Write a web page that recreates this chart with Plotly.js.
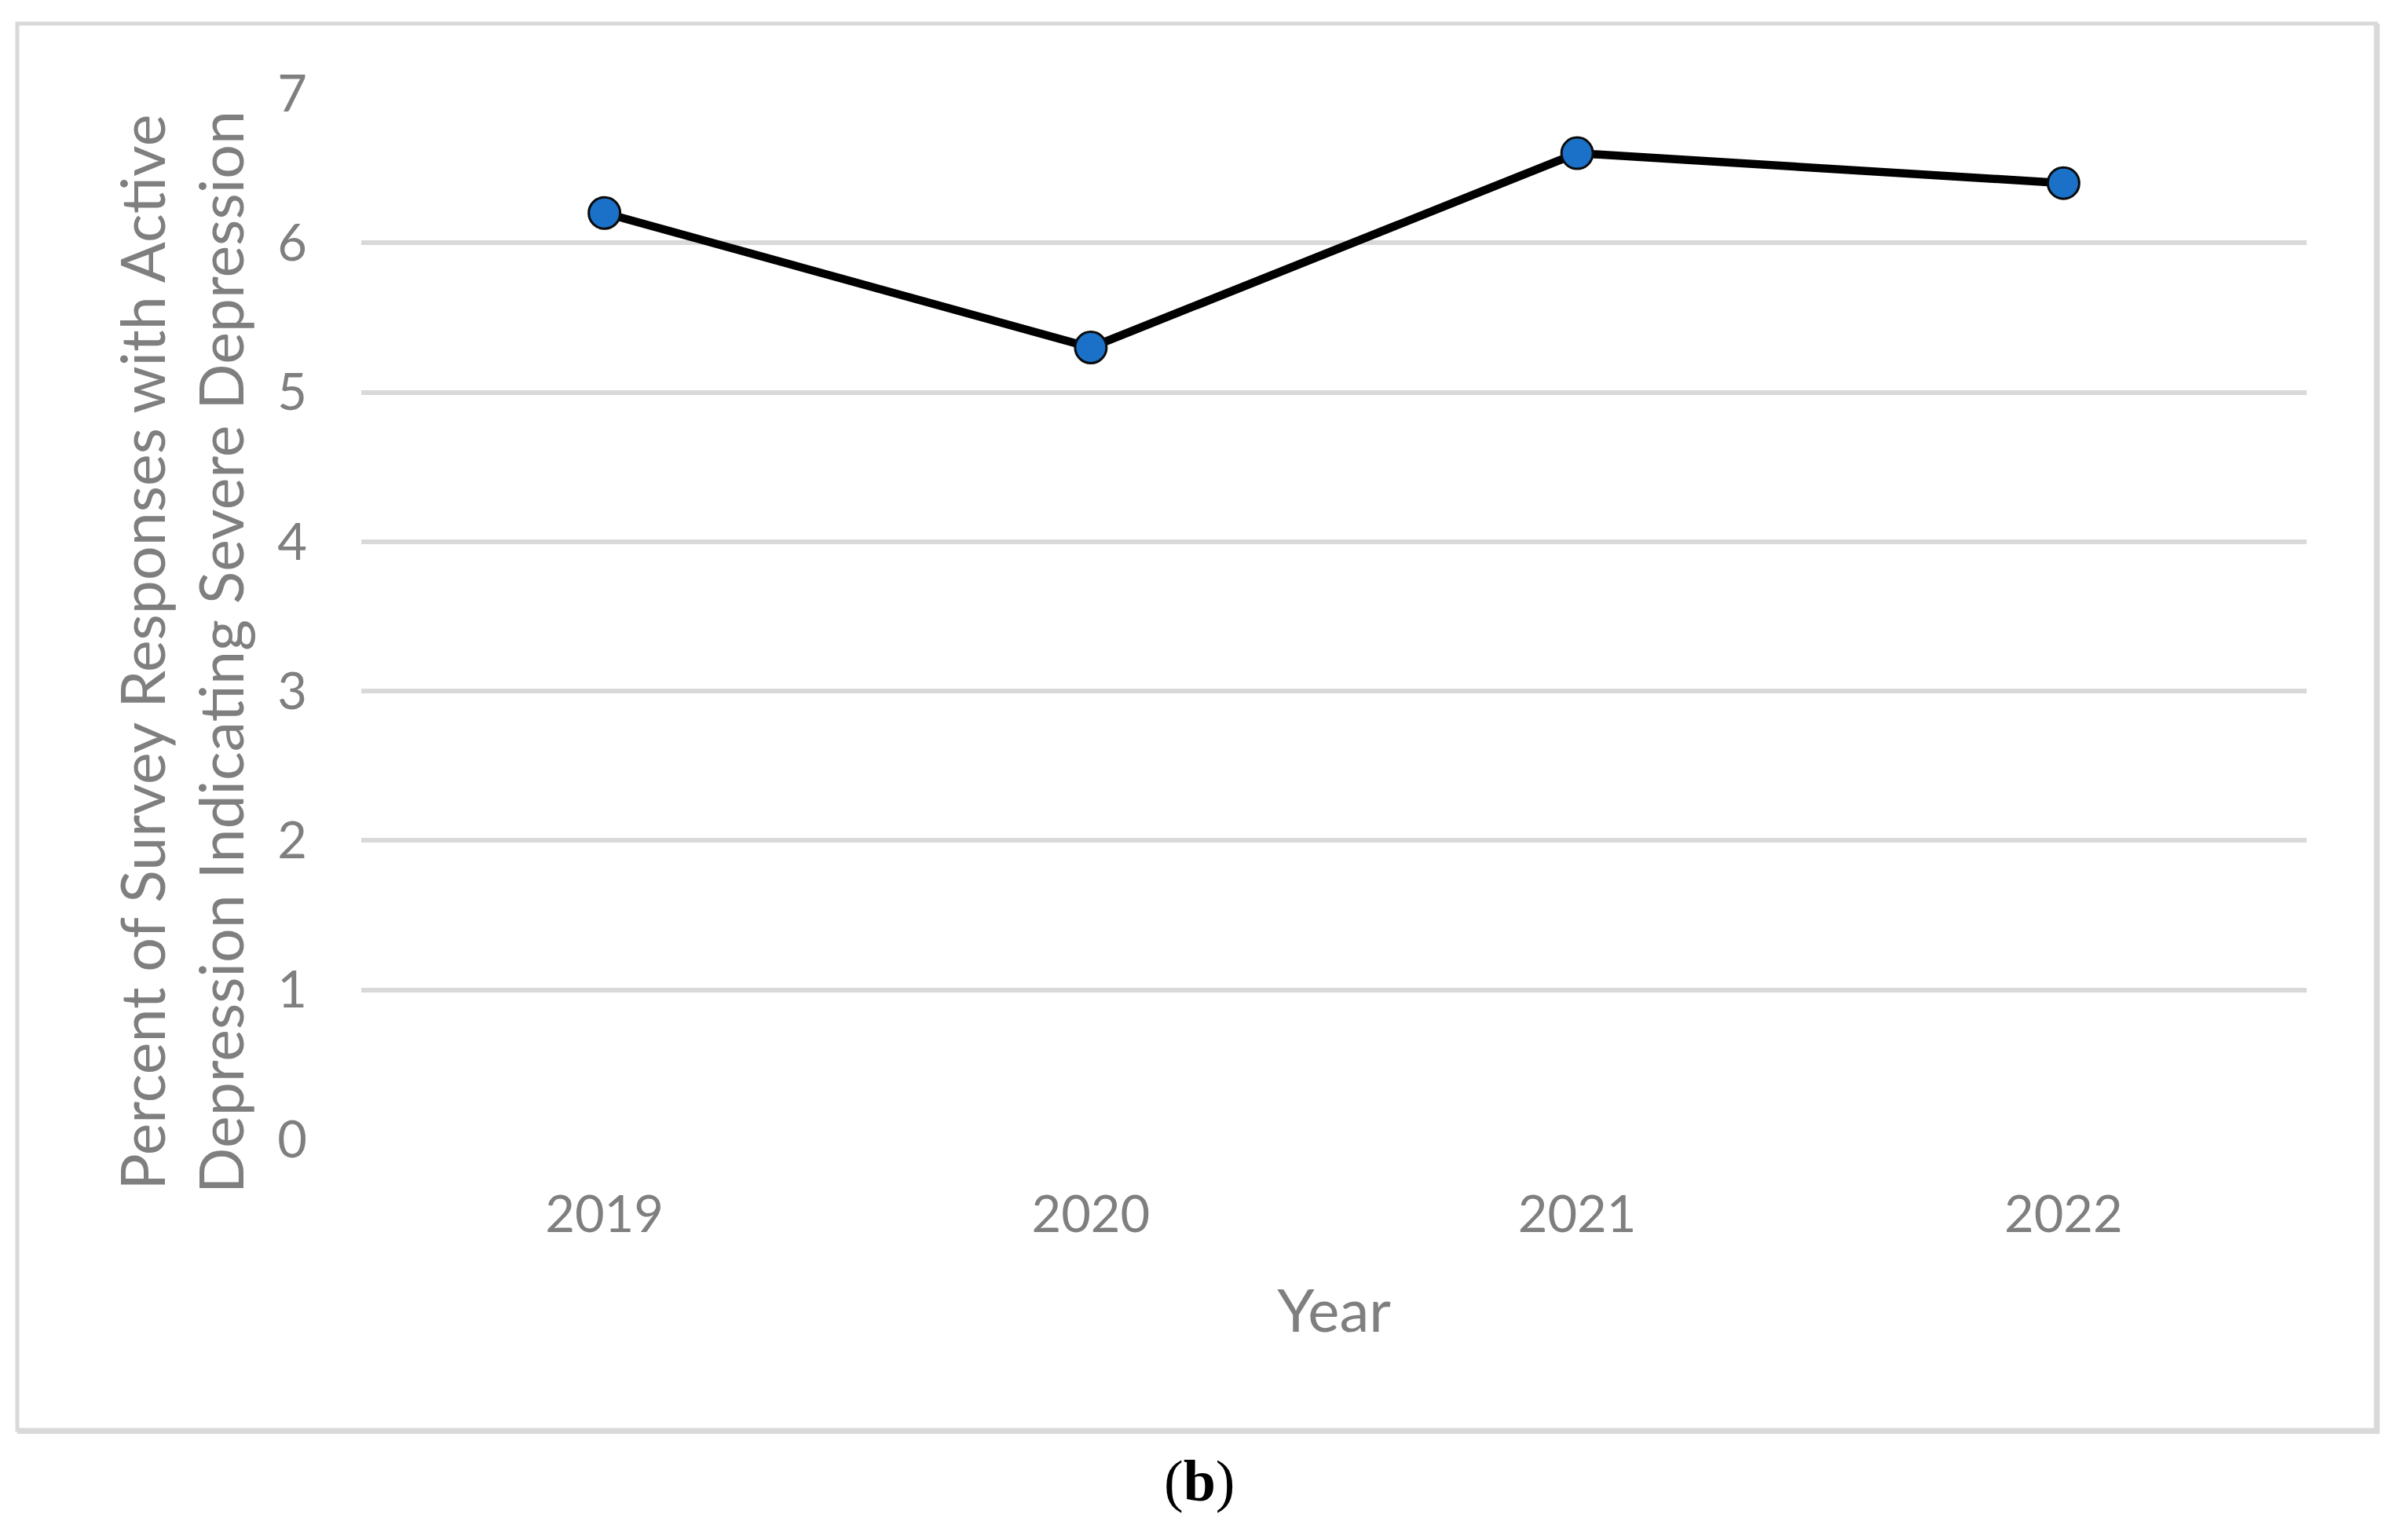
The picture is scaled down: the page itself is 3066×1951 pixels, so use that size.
<!DOCTYPE html>
<html>
<head>
<meta charset="utf-8">
<script src="https://cdn.plot.ly/plotly-3.0.1.min.js"></script>
<style>
  html, body { margin: 0; padding: 0; background: #ffffff; }
  #chart { width: 3066px; height: 1951px; }
</style>
</head>
<body>
<div id="chart"></div>
<script>
// ---- data ----
const years = ["2019", "2020", "2021", "2022"];
const severePercent = [6.2, 5.3, 6.6, 6.4];
const yTicks = [0, 1, 2, 3, 4, 5, 6, 7];
const xTitle = "Year";
const yTitleLines = ["Percent of Survey Responses with Active", "Depression Indicating Severe Depression"];
const captionLetter = "b";

// ---- layout geometry (pixels) ----
const W = 3066, H = 1951;
const M = { l: 460, r: 129, t: 119, b: 500 };
const PW = W - M.l - M.r, PH = H - M.t - M.b;
const px = x => (x - M.l) / PW;          // page px -> paper x
const py = y => (H - M.b - y) / PH;      // page px -> paper y

const FONT = "Lato, 'Open Sans', sans-serif";
const GRAY = "#7f7f7f";
const GRID = "#d9d9d9";

const trace = {
  type: "scatter",
  mode: "lines+markers",
  x: years,
  y: severePercent,
  line: { color: "#000000", width: 10.5 },
  marker: { size: 40, color: "#1a71c7", line: { color: "#0a0a0a", width: 3 } },
  hoverinfo: "x+y",
  showlegend: false
};

const layout = {
  width: W, height: H,
  margin: M,
  paper_bgcolor: "#ffffff",
  plot_bgcolor: "#ffffff",
  showlegend: false,
  font: { family: FONT, color: GRAY, size: 65 },
  xaxis: {
    type: "category",
    range: [-0.5, 3.5],
    showgrid: false,
    zeroline: false,
    showline: false,
    ticks: "",
    ticklabelstandoff: 52,
    tickfont: { family: FONT, size: 65, color: GRAY },
    title: { text: xTitle, font: { family: FONT, size: 76, color: GRAY }, standoff: 60 }
  },
  yaxis: {
    range: [0, 7],
    tickvals: yTicks,
    ticktext: yTicks.map(String),
    showgrid: true,
    gridcolor: GRID,
    gridwidth: 6,
    zeroline: false,
    showline: false,
    ticks: "",
    ticklabelstandoff: 68,
    tickfont: { family: FONT, size: 65, color: GRAY }
  },
  annotations: [
    {
      xref: "paper", yref: "paper",
      x: px(230), y: py(831),
      xanchor: "center", yanchor: "middle",
      text: yTitleLines.join("<br>"),
      textangle: -90,
      showarrow: false,
      font: { family: FONT, size: 77, color: GRAY }
    },
    {
      xref: "paper", yref: "paper",
      x: px(1527), y: py(1886),
      xanchor: "center", yanchor: "middle",
      text: "(<b>" + captionLetter + "</b>)",
      showarrow: false,
      font: { family: "'Liberation Serif', 'Times New Roman', serif", size: 74, color: "#000000" }
    }
  ],
  shapes: [
    {
      type: "rect", xref: "paper", yref: "paper", layer: "below",
      x0: px(22), x1: px(3025), y0: py(1821), y1: py(30),
      line: { color: GRID, width: 5 }, fillcolor: "rgba(0,0,0,0)"
    },
    {
      type: "line", xref: "paper", yref: "paper", layer: "below",
      x0: px(3028), x1: px(3028), y0: py(1825), y1: py(30),
      line: { color: GRID, width: 4 }
    },
    {
      type: "line", xref: "paper", yref: "paper", layer: "below",
      x0: px(22), x1: px(3030), y0: py(1824), y1: py(1824),
      line: { color: GRID, width: 4 }
    }
  ]
};

Plotly.newPlot("chart", [trace], layout, { staticPlot: true, displayModeBar: false });
</script>
</body>
</html>
